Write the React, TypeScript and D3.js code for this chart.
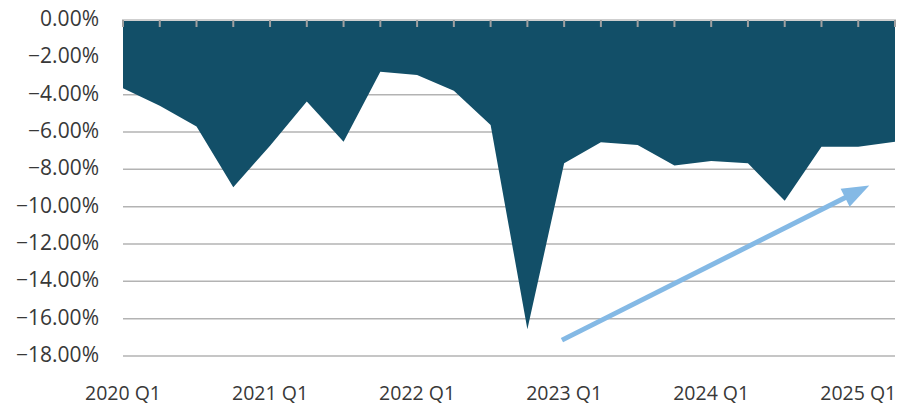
import React from "react";
import * as d3 from "d3";

const quarters = [
  "2020 Q1","2020 Q2","2020 Q3","2020 Q4",
  "2021 Q1","2021 Q2","2021 Q3","2021 Q4",
  "2022 Q1","2022 Q2","2022 Q3","2022 Q4",
  "2023 Q1","2023 Q2","2023 Q3","2023 Q4",
  "2024 Q1","2024 Q2","2024 Q3","2024 Q4",
  "2025 Q1","2025 Q2",
];
const values = [
  -3.66, -4.6, -5.7, -8.96,
  -6.73, -4.37, -6.52, -2.77,
  -2.95, -3.79, -5.62, -16.57,
  -7.68, -6.55, -6.7, -7.8,
  -7.55, -7.68, -9.68, -6.79,
  -6.79, -6.52,
];
const xLabels = ["2020 Q1", "2021 Q1", "2022 Q1", "2023 Q1", "2024 Q1", "2025 Q1"];
const yTicks = [0, -2, -4, -6, -8, -10, -12, -14, -16, -18];
// arrow annotation: [quarter, fractional step offset, value]
const arrowStart: [string, number, number] = ["2023 Q1", -0.06, -17.15];
const arrowEnd: [string, number, number] = ["2025 Q1", 0.3, -8.87];

const W = 905;
const H = 406;
const FONT = "'Open Sans', sans-serif";

export default function App() {
  const x = d3.scalePoint<string>().domain(quarters).range([123, 895]);
  const y = d3.scaleLinear().domain([0, -18]).range([20, 356]);
  const step = x.step();

  const data = quarters.map((q, i) => ({ q, v: values[i] }));
  const area = d3
    .area<{ q: string; v: number }>()
    .x((d) => x(d.q)!)
    .y0(y(0))
    .y1((d) => y(d.v))(data);

  const ax = (a: [string, number, number]) => [x(a[0])! + a[1] * step, y(a[2])];
  const [x0, y0] = ax(arrowStart);
  const [x1, y1] = ax(arrowEnd);
  const len = Math.hypot(x1 - x0, y1 - y0);
  const ux = (x1 - x0) / len;
  const uy = (y1 - y0) / len;
  const headL = 27;
  const headW = 10;
  const bx = x1 - ux * headL;
  const by = y1 - uy * headL;
  const head = [
    [x1, y1],
    [bx - uy * headW, by + ux * headW],
    [bx + uy * headW, by - ux * headW],
  ];

  return (
    <svg
      width={W}
      height={H}
      style={{ position: "absolute", left: 0, top: 0, background: "#fff" }}
    >
      {yTicks.slice(1).map((t) => (
        <line
          key={t}
          x1={123}
          x2={895}
          y1={y(t)}
          y2={y(t)}
          stroke="#b3b3b3"
          strokeWidth={1.5}
        />
      ))}
      <path d={area!} fill="#124f68" />
      <line x1={122} x2={896} y1={y(0)} y2={y(0)} stroke="#cfcfcf" strokeWidth={2} />
      {quarters.map((q) => (
        <line
          key={q}
          x1={x(q)}
          x2={x(q)}
          y1={y(0)}
          y2={y(0) + 7}
          stroke="#a0a0a0"
          strokeWidth={2}
        />
      ))}
      {yTicks.map((t) => (
        <text
          key={t}
          x={99}
          y={y(t) + 6}
          textAnchor="end"
          fontFamily={FONT}
          fontSize={21}
          fill="#383838"
        >
          {d3.format(".2f")(t) + "%"}
        </text>
      ))}
      {xLabels.map((q) => (
        <text
          key={q}
          x={x(q)}
          y={400}
          textAnchor="middle"
          fontFamily={FONT}
          fontSize={19.5}
          fill="#383838"
        >
          {q}
        </text>
      ))}
      <line x1={x0} y1={y0} x2={bx + ux * 2} y2={by + uy * 2} stroke="#84b9e5" strokeWidth={5} />
      <polygon points={head.map((p) => p.join(",")).join(" ")} fill="#84b9e5" />
    </svg>
  );
}
